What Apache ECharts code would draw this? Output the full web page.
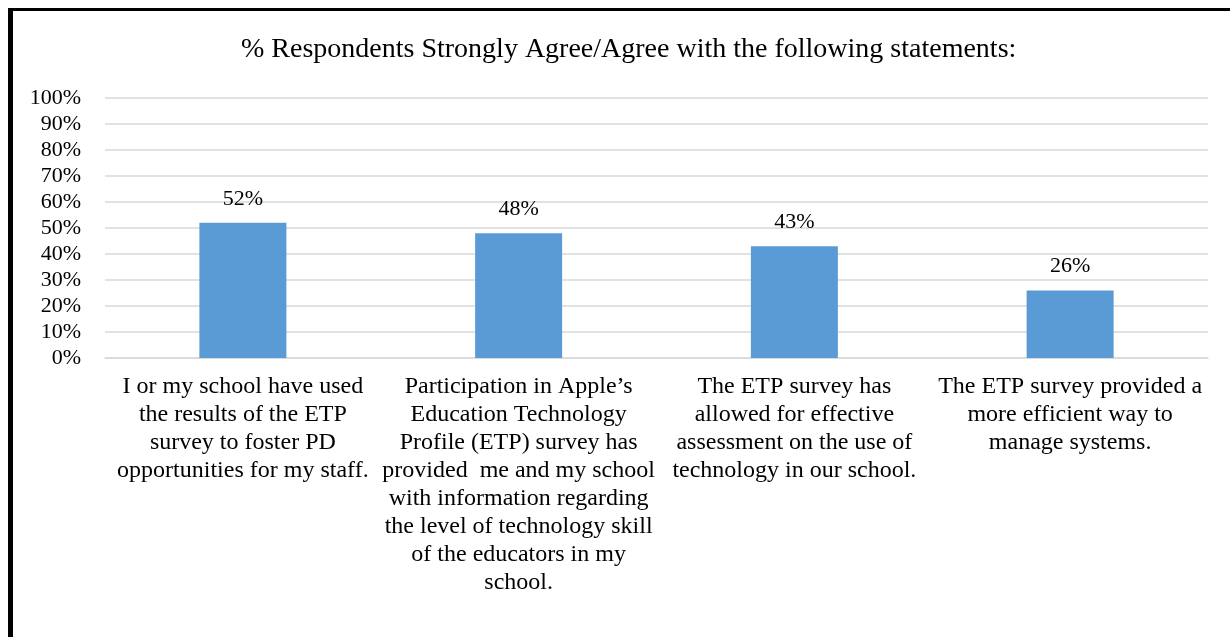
<!DOCTYPE html>
<html>
<head>
<meta charset="utf-8">
<title>% Respondents Strongly Agree/Agree</title>
<script src="https://cdn.jsdelivr.net/npm/echarts@6/dist/echarts.min.js"></script>
<style>
  html, body { margin: 0; padding: 0; background: #fff; }
  #chart { width: 1230px; height: 637px; }
</style>
</head>
<body>
<div id="chart"></div>
<script>
// Survey statements (category axis, pre-wrapped into lines)
const categories = [
  'I or my school have used\nthe results of the ETP\nsurvey to foster PD\nopportunities for my staff.',
  'Participation in Apple\u2019s\nEducation Technology\nProfile (ETP) survey has\nprovided  me and my school\nwith information regarding\nthe level of technology skill\nof the educators in my\nschool.',
  'The ETP survey has\nallowed for effective\nassessment on the use of\ntechnology in our school.',
  'The ETP survey provided a\nmore efficient way to\nmanage systems.'
];

// Share of respondents who strongly agree / agree (%)
const agreePercent = [52, 48, 43, 26];

// Value axis ticks (%)
const yTicks = [0, 10, 20, 30, 40, 50, 60, 70, 80, 90, 100];

const serif = '"Liberation Serif", "Times New Roman", serif';

const chart = echarts.init(document.getElementById('chart'), null, { renderer: 'canvas' });

chart.setOption({
  backgroundColor: '#ffffff',
  animation: false,
  title: {
    text: '% Respondents Strongly Agree/Agree with the following statements:',
    left: 236,
    top: 31,
    textStyle: { fontFamily: serif, fontSize: 28, fontWeight: 'normal', color: '#000' }
  },
  graphic: [
    // frame: heavy left rule and top rule
    { type: 'rect', shape: { x: 8, y: 8, width: 5, height: 640 }, style: { fill: '#000' } },
    { type: 'rect', shape: { x: 8, y: 8, width: 1230, height: 3 }, style: { fill: '#000' } }
  ],
  grid: { left: 105, right: 22, top: 98, bottom: 279, containLabel: false },
  xAxis: {
    type: 'category',
    data: categories,
    axisLine: { show: true, lineStyle: { color: '#d9d9d9', width: 1.5 } },
    axisTick: { show: false },
    axisLabel: {
      interval: 0,
      margin: 15,
      color: '#000',
      fontFamily: serif,
      fontSize: 24,
      lineHeight: 28,
      align: 'center'
    }
  },
  yAxis: {
    type: 'value',
    min: yTicks[0],
    max: yTicks[yTicks.length - 1],
    interval: yTicks[1] - yTicks[0],
    axisLine: { show: false },
    axisTick: { show: false },
    splitLine: { lineStyle: { color: '#d9d9d9', width: 1.5 } },
    axisLabel: {
      margin: 24,
      color: '#000',
      fontFamily: serif,
      fontSize: 22,
      formatter: '{value}%'
    }
  },
  series: [{
    type: 'bar',
    data: agreePercent,
    barWidth: 87,
    itemStyle: { color: '#5b9bd5' },
    label: {
      show: true,
      position: 'top',
      distance: 13,
      color: '#000',
      fontFamily: serif,
      fontSize: 22,
      formatter: '{c}%'
    }
  }]
});
</script>
</body>
</html>
